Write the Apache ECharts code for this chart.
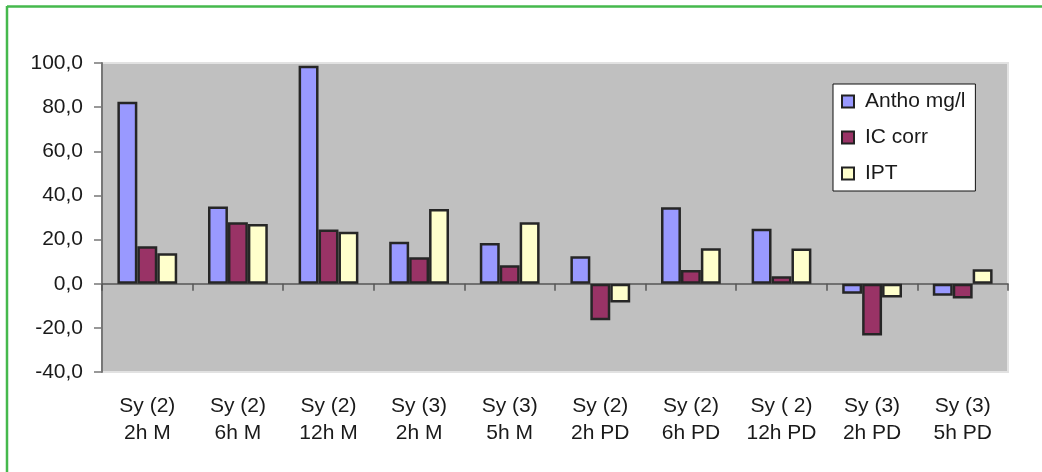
<!DOCTYPE html>
<html>
<head>
<meta charset="utf-8">
<script src="https://cdn.jsdelivr.net/npm/echarts@6/dist/echarts.min.js"></script>
<style>
  html, body { margin: 0; padding: 0; background: #fff; }
  #chart { width: 1042px; height: 472px; }
</style>
</head>
<body>
<div id="chart"></div>
<script>
// categories (two-line labels)
const categories = [
  'Sy (2)\n2h M', 'Sy (2)\n6h M', 'Sy (2)\n12h M', 'Sy (3)\n2h M', 'Sy (3)\n5h M',
  'Sy (2)\n2h PD', 'Sy (2)\n6h PD', 'Sy ( 2)\n12h PD', 'Sy (3)\n2h PD', 'Sy (3)\n5h PD'
];
// series values
const anthoValues = [82.5, 35.0, 98.8, 19.0, 18.5, 12.5, 34.7, 24.9, -4.5, -5.4];
const icCorrValues = [17.0, 27.9, 24.6, 12.0, 8.4, -16.6, 6.2, 3.4, -23.5, -6.7];
const iptValues = [13.8, 27.1, 23.5, 33.9, 27.9, -8.5, 16.1, 16.0, -6.3, 6.5];
const seriesNames = ['Antho mg/l', 'IC corr', 'IPT'];
// y axis range
const yMin = -40, yMax = 100, yStep = 20;

const fontFamily = '"Liberation Sans", Arial, sans-serif';
const textColor = '#1a1a1a';

const chart = echarts.init(document.getElementById('chart'), null, { renderer: 'canvas' });

function barSeries(name, data, color) {
  return {
    name: name,
    type: 'bar',
    data: data,
    barGap: '0%',
    barCategoryGap: '34%',
    itemStyle: { color: color, borderColor: '#262626', borderWidth: 2.5 }
  };
}

chart.setOption({
  animation: false,
  textStyle: { fontFamily: fontFamily },
  grid: {
    left: 102, right: 34, top: 63, bottom: 100,
    show: true,
    backgroundColor: '#C0C0C0',
    borderColor: '#e2e2e2',
    borderWidth: 2
  },
  legend: {
    orient: 'vertical',
    left: 833,
    top: 84,
    width: 146,
    itemWidth: 12,
    itemHeight: 12,
    itemGap: 15,
    padding: [7, 10, 7, 8],
    backgroundColor: '#ffffff',
    borderColor: '#111',
    borderWidth: 1,
    icon: 'rect',
    itemStyle: { borderColor: '#222', borderWidth: 2 },
    textStyle: { fontSize: 21, color: textColor, fontFamily: fontFamily, padding: [0, 0, 0, 6] },
    data: seriesNames
  },
  xAxis: [
    {
      // bottom label axis
      type: 'category',
      data: categories,
      position: 'bottom',
      axisLine: { onZero: false, show: false },
      axisTick: { show: false },
      axisLabel: {
        fontSize: 21,
        lineHeight: 27,
        color: textColor,
        margin: 21,
        interval: 0
      }
    },
    {
      // axis line at zero with tick marks
      type: 'category',
      data: categories,
      position: 'bottom',
      axisLine: { onZero: true, lineStyle: { color: '#555', width: 1.5 } },
      axisTick: { show: true, length: 7, inside: false, lineStyle: { color: '#555', width: 1.5 } },
      axisLabel: { show: false }
    }
  ],
  yAxis: {
    type: 'value',
    min: yMin,
    max: yMax,
    interval: yStep,
    axisLine: { show: true, lineStyle: { color: '#777', width: 2 } },
    axisTick: { show: true, length: 8, lineStyle: { color: '#777', width: 1.5 } },
    splitLine: { show: false },
    axisLabel: {
      fontSize: 21,
      color: textColor,
      margin: 19,
      formatter: v => v.toFixed(1).replace('.', ',')
    }
  },
  series: [
    barSeries(seriesNames[0], anthoValues, '#9999FF'),
    barSeries(seriesNames[1], icCorrValues, '#993366'),
    barSeries(seriesNames[2], iptValues, '#FFFFCC')
  ],
  graphic: [
    // green frame, top and left edges
    { type: 'line', shape: { x1: 7, y1: 6.5, x2: 1042, y2: 6.5 }, style: { stroke: '#45B94D', lineWidth: 2.5 }, z: 100 },
    { type: 'line', shape: { x1: 7, y1: 6, x2: 7, y2: 472 }, style: { stroke: '#45B94D', lineWidth: 2.5 }, z: 100 }
  ]
});
</script>
</body>
</html>
